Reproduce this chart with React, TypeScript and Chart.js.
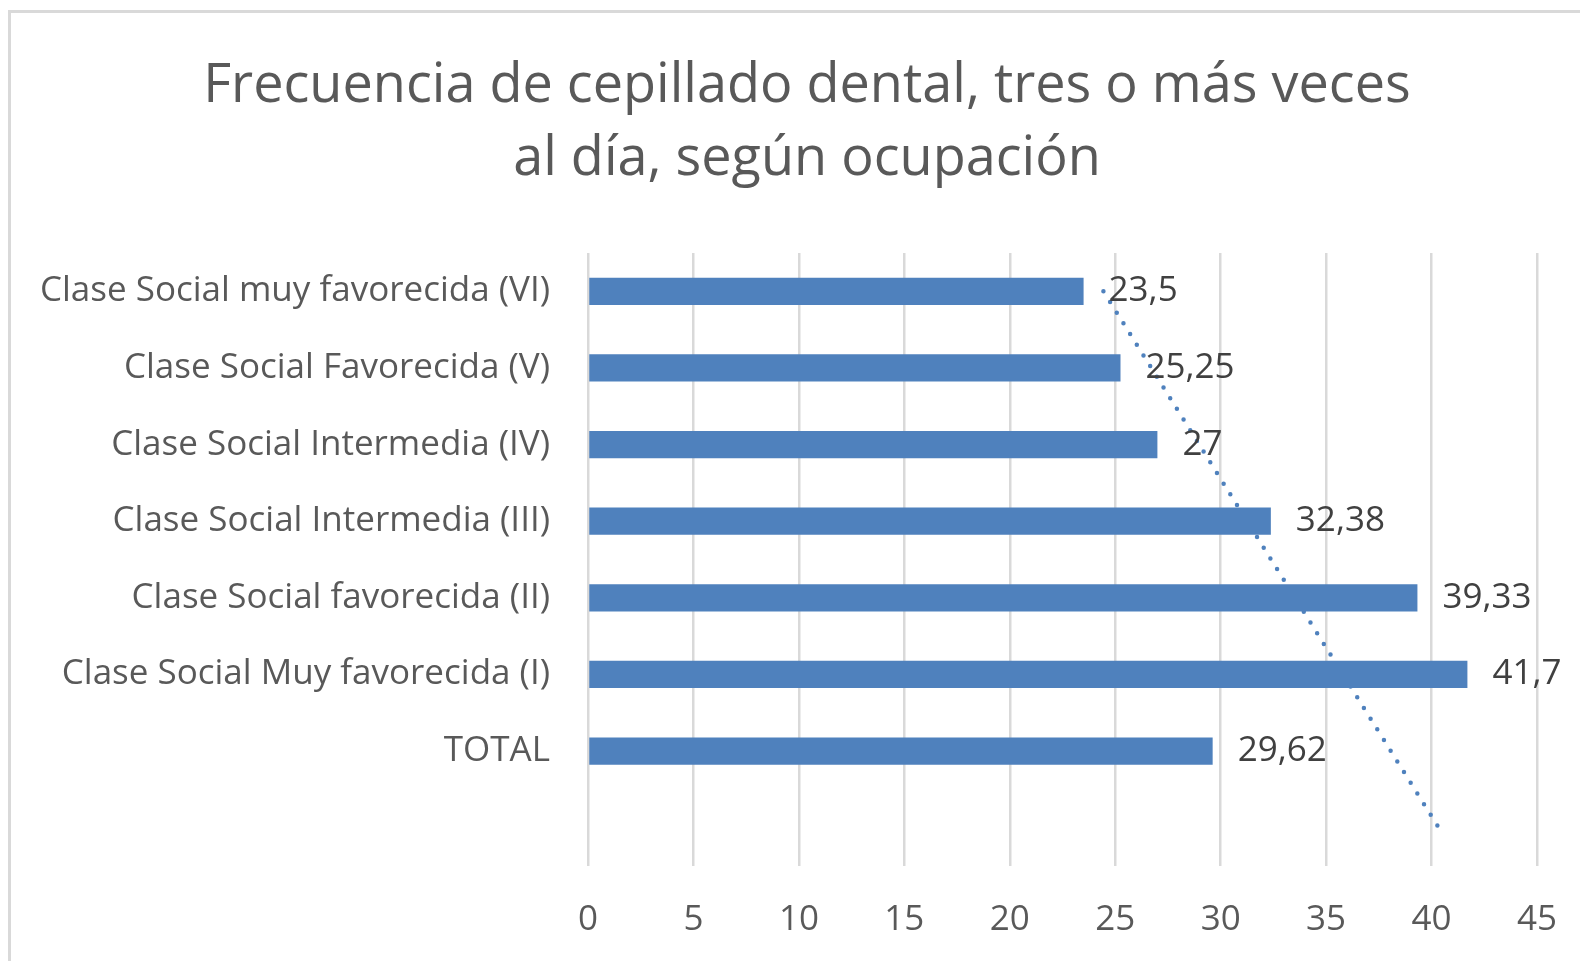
import React, { useEffect, useRef } from 'react';
import { Chart, registerables } from 'chart.js';

Chart.register(...registerables);

const TITLE_LINES = ['Frecuencia de cepillado dental, tres o más veces', 'al día, según ocupación'];
const CATEGORIES = [
  'Clase Social muy favorecida (VI)',
  'Clase Social Favorecida (V)',
  'Clase Social Intermedia (IV)',
  'Clase Social Intermedia (III)',
  'Clase Social favorecida (II)',
  'Clase Social Muy favorecida (I)',
  'TOTAL',
];
const VALUES = [23.5, 25.25, 27, 32.38, 39.33, 41.7, 29.62];
// Linear trendline (with one period backward forecast):
// value at the top category and at the empty slot below TOTAL.
const TREND_VALUES = [24.44, 40.34];
const TREND_CATEGORY_INDEX = [0, 7];
const X_MIN = 0;
const X_MAX = 45;
const X_STEP = 5;

const FAMILY = "'Open Sans', 'Noto Sans', sans-serif";
const BAR_COLOR = '#4f81bd';

const titlePlugin = {
  id: 'twoLineTitle',
  afterDraw(chart: any) {
    const ctx = chart.ctx;
    ctx.save();
    ctx.font = `54px ${FAMILY}`;
    ctx.fillStyle = '#595959';
    ctx.textAlign = 'center';
    ctx.textBaseline = 'middle';
    TITLE_LINES.forEach((line, i) => {
      ctx.fillText(line, 807, 87 + i * 73);
    });
    ctx.restore();
  },
};

const valueLabels = {
  id: 'valueLabels',
  afterDatasetsDraw(chart: any) {
    const meta = chart.getDatasetMeta(0);
    const ctx = chart.ctx;
    ctx.save();
    ctx.font = `35px ${FAMILY}`;
    ctx.fillStyle = '#404040';
    ctx.textBaseline = 'middle';
    ctx.textAlign = 'left';
    meta.data.forEach((el: any, i: number) => {
      const v = VALUES[i];
      if (v == null) return;
      ctx.fillText(String(v).replace('.', ','), el.x + 25, el.y);
    });
    ctx.restore();
  },
};

export default function App() {
  const ref = useRef<HTMLCanvasElement | null>(null);

  useEffect(() => {
    if (!ref.current) return;
    const labels = [...CATEGORIES, ''];
    const chart = new Chart(ref.current, {
      type: 'bar',
      data: {
        labels,
        datasets: [
          {
            type: 'bar',
            data: VALUES,
            backgroundColor: BAR_COLOR,
            borderWidth: 0,
            categoryPercentage: 0.355,
            barPercentage: 1,
            order: 1,
          } as any,
          {
            type: 'line',
            data: TREND_VALUES.map((v, i) => ({ x: v, y: labels[TREND_CATEGORY_INDEX[i]] })),
            borderColor: BAR_COLOR,
            borderWidth: 4.5,
            borderDash: [0, 12.6],
            borderCapStyle: 'round',
            pointRadius: 0,
            fill: false,
            tension: 0,
            order: 2,
          } as any,
        ],
      },
      options: {
        animation: false,
        responsive: false,
        indexAxis: 'y',
        layout: { padding: { left: 20, right: 43, top: 253, bottom: 0 } },
        plugins: {
          legend: { display: false },
          tooltip: { enabled: false },
          title: { display: false },
        },
        scales: {
          x: {
            type: 'linear',
            min: X_MIN,
            max: X_MAX,
            ticks: {
              stepSize: X_STEP,
              color: '#595959',
              font: { family: FAMILY, size: 35 },
              padding: 33,
            },
            grid: { color: '#d9d9d9', lineWidth: 2.5, drawTicks: false },
            border: { display: false },
            afterFit: (s: any) => {
              s.height = 95;
              s.paddingLeft = 0;
              s.paddingRight = 0;
            },
          },
          y: {
            type: 'category',
            offset: true,
            ticks: {
              color: '#595959',
              font: { family: FAMILY, size: 35 },
              padding: 38,
            },
            grid: { display: false, drawTicks: false },
            border: { display: false },
            afterFit: (s: any) => {
              s.width = 568;
            },
          },
        },
      } as any,
      plugins: [valueLabels, titlePlugin],
    });
    return () => chart.destroy();
  }, []);

  return (
    <div style={{ position: 'absolute', left: 0, top: 0, width: 1580, height: 961, background: '#fff', overflow: 'hidden' }}>
      <div
        style={{
          position: 'absolute',
          left: 8,
          top: 10,
          width: 1600,
          height: 1000,
          borderLeft: '3px solid #d9d9d9',
          borderTop: '3px solid #d9d9d9',
        }}
      />
      <canvas ref={ref} width={1580} height={961} style={{ position: 'absolute', left: 0, top: 0, display: 'block' }} />
    </div>
  );
}
